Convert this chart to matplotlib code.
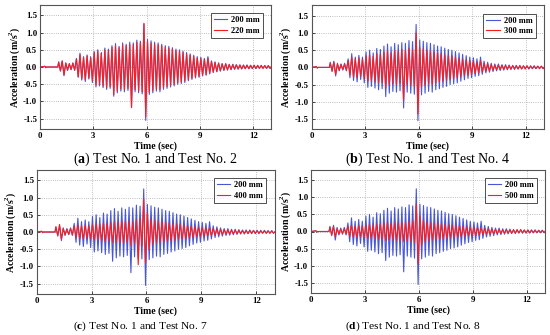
import numpy as np
import matplotlib
matplotlib.use("Agg")
import matplotlib.pyplot as plt

plt.rcParams['font.family'] = ['Liberation Serif', 'DejaVu Serif']
plt.rcParams['mathtext.fontset'] = 'custom'
plt.rcParams['mathtext.rm'] = 'Liberation Serif'
plt.rcParams['mathtext.bf'] = 'Liberation Serif:bold'

# quiet part before the shaking starts (time, value)
pre_t = [0.0, 0.28, 0.32, 0.36, 1.0]
pre_v = [0.0, 0.02, -0.02, 0.0, 0.0]

# one positive and one negative peak per 0.2 s cycle, from 1.0 s to 12.8 s
blue_pos = [0.15, 0.18, 0.12, 0.10, 0.12, 0.25, 0.40, 0.30, 0.35, 0.30,
            0.45, 0.50, 0.42, 0.55, 0.52, 0.62, 0.68, 0.60, 0.70, 0.66,
            0.72, 0.70, 0.78, 0.75, 1.25, 0.80, 0.76, 0.72, 0.70, 0.66,
            0.62, 0.60, 0.56, 0.52, 0.50, 0.46, 0.42, 0.38, 0.34, 0.30,
            0.28, 0.25, 0.30, 0.18, 0.15, 0.12, 0.10, 0.10, 0.08, 0.08,
            0.07, 0.06, 0.06, 0.06, 0.05, 0.05, 0.05, 0.05, 0.04, 0.04]
blue_neg = [-0.12, -0.25, -0.10, -0.08, -0.10, -0.30, -0.38, -0.42, -0.35, -0.45,
            -0.58, -0.55, -0.60, -0.65, -0.62, -0.85, -0.75, -0.70, -0.72, -0.68,
            -1.18, -0.72, -0.75, -0.78, -1.55, -0.80, -0.75, -0.70, -0.72, -0.65,
            -0.62, -0.58, -0.55, -0.50, -0.48, -0.45, -0.40, -0.36, -0.32, -0.30,
            -0.26, -0.24, -0.20, -0.16, -0.14, -0.12, -0.10, -0.09, -0.08, -0.07,
            -0.06, -0.06, -0.05, -0.05, -0.05, -0.05, -0.04, -0.04, -0.04, -0.04]

r220_pos = [0.14, 0.17, 0.11, 0.09, 0.11, 0.23, 0.36, 0.28, 0.32, 0.28,
            0.42, 0.46, 0.40, 0.50, 0.48, 0.57, 0.62, 0.56, 0.65, 0.62,
            0.66, 0.65, 0.72, 0.70, 1.27, 0.74, 0.70, 0.67, 0.65, 0.62,
            0.57, 0.55, 0.52, 0.48, 0.46, 0.42, 0.38, 0.35, 0.31, 0.27,
            0.25, 0.22, 0.26, 0.16, 0.13, 0.11, 0.09, 0.09, 0.07, 0.07,
            0.06, 0.06, 0.05, 0.05, 0.05, 0.05, 0.04, 0.04, 0.04, 0.04]
r220_neg = [-0.11, -0.23, -0.09, -0.07, -0.09, -0.28, -0.34, -0.38, -0.32, -0.40,
            -0.52, -0.50, -0.55, -0.60, -0.57, -0.80, -0.70, -0.64, -0.66, -0.62,
            -1.18, -0.66, -0.69, -0.72, -1.45, -0.74, -0.69, -0.64, -0.66, -0.60,
            -0.57, -0.53, -0.50, -0.46, -0.44, -0.41, -0.37, -0.33, -0.29, -0.27,
            -0.24, -0.22, -0.18, -0.15, -0.13, -0.11, -0.09, -0.08, -0.07, -0.06,
            -0.06, -0.05, -0.05, -0.05, -0.04, -0.04, -0.04, -0.04, -0.04, -0.04]

r300_pos = [0.12, 0.15, 0.10, 0.08, 0.09, 0.20, 0.30, 0.25, 0.28, 0.24,
            0.34, 0.36, 0.32, 0.40, 0.38, 0.44, 0.48, 0.42, 0.50, 0.46,
            0.52, 0.50, 0.55, 0.52, 1.00, 0.58, 0.54, 0.50, 0.48, 0.45,
            0.42, 0.40, 0.37, 0.34, 0.32, 0.30, 0.27, 0.24, 0.22, 0.20,
            0.18, 0.16, 0.20, 0.12, 0.10, 0.08, 0.07, 0.07, 0.06, 0.05,
            0.05, 0.05, 0.04, 0.04, 0.04, 0.04, 0.03, 0.03, 0.03, 0.03]
r300_neg = [-0.10, -0.20, -0.08, -0.06, -0.08, -0.22, -0.28, -0.30, -0.26, -0.32,
            -0.40, -0.38, -0.42, -0.45, -0.43, -0.60, -0.50, -0.48, -0.50, -0.46,
            -0.95, -0.50, -0.52, -0.55, -1.35, -0.56, -0.52, -0.48, -0.50, -0.45,
            -0.42, -0.40, -0.37, -0.34, -0.32, -0.30, -0.27, -0.24, -0.22, -0.20,
            -0.18, -0.16, -0.14, -0.11, -0.10, -0.08, -0.07, -0.06, -0.05, -0.05,
            -0.05, -0.04, -0.04, -0.04, -0.03, -0.03, -0.03, -0.03, -0.03, -0.03]

r400_pos = [0.15, 0.22, 0.10, 0.08, 0.10, 0.18, 0.20, 0.18, 0.20, 0.18,
            0.22, 0.24, 0.22, 0.26, 0.25, 0.28, 0.30, 0.28, 0.32, 0.30,
            0.32, 0.30, 0.36, 0.40, 0.95, 0.55, 0.38, 0.34, 0.32, 0.30,
            0.28, 0.26, 0.25, 0.24, 0.22, 0.20, 0.18, 0.17, 0.16, 0.14,
            0.13, 0.12, 0.12, 0.10, 0.09, 0.08, 0.07, 0.06, 0.05, 0.05,
            0.05, 0.04, 0.04, 0.04, 0.04, 0.03, 0.03, 0.03, 0.03, 0.03]
r400_neg = [-0.10, -0.20, -0.08, -0.07, -0.08, -0.15, -0.18, -0.20, -0.18, -0.20,
            -0.24, -0.22, -0.25, -0.28, -0.26, -0.32, -0.30, -0.30, -0.32, -0.30,
            -0.40, -0.32, -0.95, -0.40, -0.90, -0.50, -0.36, -0.32, -0.30, -0.28,
            -0.27, -0.25, -0.24, -0.22, -0.20, -0.19, -0.17, -0.16, -0.14, -0.13,
            -0.12, -0.11, -0.10, -0.09, -0.08, -0.07, -0.06, -0.06, -0.05, -0.05,
            -0.04, -0.04, -0.04, -0.03, -0.03, -0.03, -0.03, -0.03, -0.03, -0.03]

r500_pos = [0.12, 0.15, 0.08, 0.07, 0.08, 0.15, 0.18, 0.16, 0.18, 0.16,
            0.18, 0.20, 0.19, 0.22, 0.21, 0.24, 0.26, 0.24, 0.27, 0.25,
            0.27, 0.26, 0.30, 0.32, 0.80, 0.45, 0.32, 0.28, 0.27, 0.25,
            0.24, 0.22, 0.21, 0.20, 0.19, 0.17, 0.16, 0.15, 0.14, 0.13,
            0.12, 0.11, 0.11, 0.09, 0.08, 0.07, 0.06, 0.06, 0.05, 0.05,
            0.04, 0.04, 0.04, 0.04, 0.03, 0.03, 0.03, 0.03, 0.03, 0.03]
r500_neg = [-0.10, -0.15, -0.07, -0.06, -0.07, -0.14, -0.16, -0.18, -0.16, -0.18,
            -0.20, -0.19, -0.21, -0.24, -0.22, -0.27, -0.25, -0.25, -0.27, -0.25,
            -0.30, -0.27, -0.30, -0.32, -0.95, -0.40, -0.30, -0.27, -0.26, -0.24,
            -0.23, -0.22, -0.20, -0.19, -0.17, -0.16, -0.15, -0.14, -0.13, -0.12,
            -0.11, -0.10, -0.09, -0.08, -0.07, -0.06, -0.06, -0.05, -0.05, -0.04,
            -0.04, -0.04, -0.03, -0.03, -0.03, -0.03, -0.03, -0.03, -0.03, -0.03]

red_labels = ['220 mm', '300 mm', '400 mm', '500 mm']
captions = ['a', 'b', 'c', 'd']
test_nos = ['2', '4', '7', '8']
reds = [(r220_pos, r220_neg), (r300_pos, r300_neg),
        (r400_pos, r400_neg), (r500_pos, r500_neg)]

cycle_start = np.arange(1.0, 13.0, 0.2)


def series(pos, neg):
    t = np.column_stack([cycle_start + 0.05, cycle_start + 0.15]).ravel()
    v = np.column_stack([pos, neg]).ravel()
    return np.concatenate([pre_t, t, [13.0]]), np.concatenate([pre_v, v, [0.0]])


BLUE = '#4757d6'
RED = '#ff1c1c'

fig = plt.figure(figsize=(5.5, 3.35), dpi=100)
W, H = 550.0, 335.0
# axes boxes in pixels: left, top, right, bottom
boxes = [(40, 5, 271, 129), (311.5, 5.5, 544, 129.3),
         (36.7, 170, 274.5, 294), (311, 170, 545, 293)]
cap_pos = [(155.5, 159, 10), (427.7, 159, 10), (140.5, 326.5, 8.2), (413, 326.5, 8.2)]

tb, vb = series(blue_pos, blue_neg)
for i, (l, t, r, b) in enumerate(boxes):
    ax = fig.add_axes([l / W, 1 - b / H, (r - l) / W, (b - t) / H])
    tr, vr = series(*reds[i])
    ax.plot(tb, vb, color=BLUE, lw=0.8, label='200 mm')
    ax.plot(tr, vr, color=RED, lw=0.8, label=red_labels[i])
    ax.set_xlim(0, 13)
    ax.set_ylim(-1.8, 1.8)
    ax.set_xticks([0, 3, 6, 9, 12])
    ax.set_yticks([-1.5, -1.0, -0.5, 0.0, 0.5, 1.0, 1.5])
    ax.set_yticklabels(['-1.5', '-1.0', '-0.5', '0.0', '0.5', '1.0', '1.5'])
    ax.grid(color='#a8a8a8', linestyle=':', linewidth=0.6)
    ax.tick_params(direction='in', length=2, width=0.5, labelsize=6.3, pad=2)
    for lab in ax.get_xticklabels() + ax.get_yticklabels():
        lab.set_fontweight('bold')
    for s in ax.spines.values():
        s.set_color('#555555')
        s.set_linewidth(0.8)
    ax.set_xlabel('Time (sec)', fontsize=7, fontweight='bold', labelpad=1)
    ax.set_ylabel(r'Acceleration (m/s$^{\mathbf{2}}$)', fontsize=7,
                  fontweight='bold', labelpad=1)
    leg = ax.legend(loc='upper right', frameon=True, fancybox=False,
                    handlelength=1.6, borderpad=0.35, labelspacing=0.3,
                    handletextpad=0.5, borderaxespad=1.0,
                    prop={'weight': 'bold', 'size': 6})
    leg.get_frame().set_edgecolor('black')
    leg.get_frame().set_linewidth(0.6)
    cx, cy, fs = cap_pos[i]
    fig.text(cx / W, 1 - cy / H,
             r'($\mathbf{%s}$) Test No. 1 and Test No. %s' % (captions[i], test_nos[i]),
             ha='center', va='center', fontsize=fs)

fig.savefig('out.png', dpi=100)
